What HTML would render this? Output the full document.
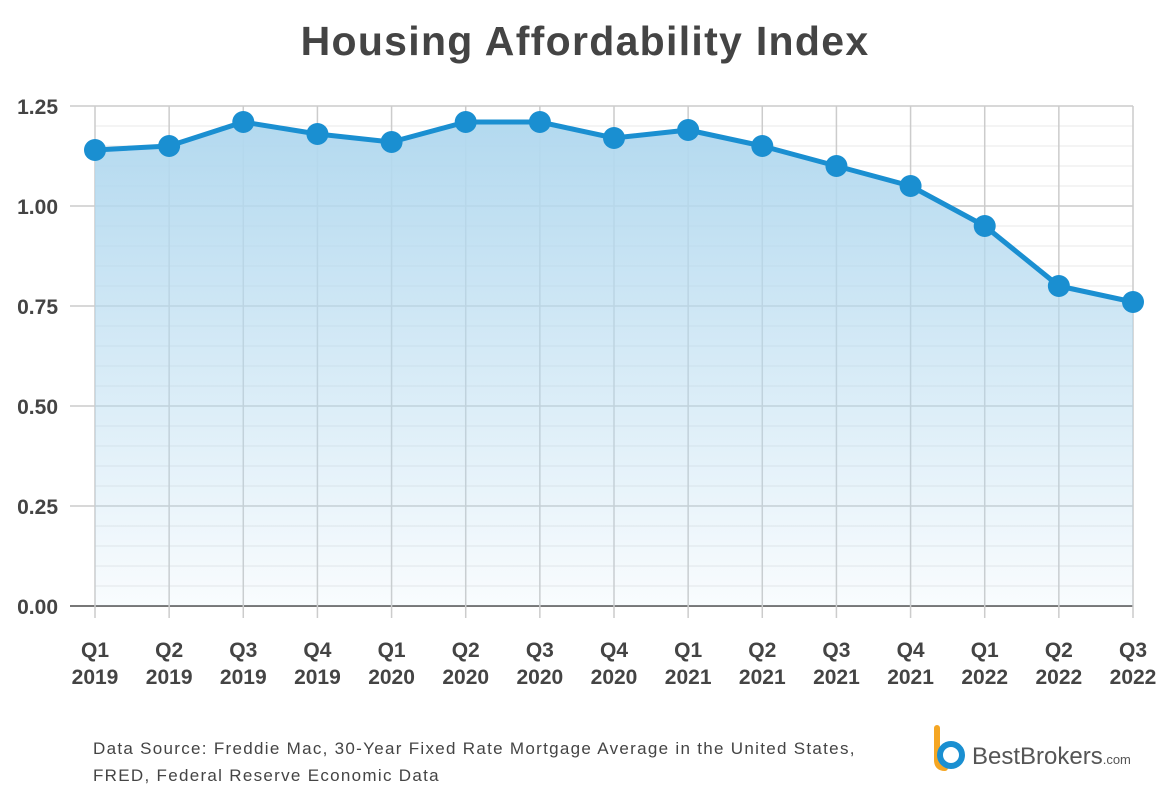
<!DOCTYPE html>
<html><head><meta charset="utf-8"><style>
body{margin:0;background:#fff;}
svg{display:block;font-family:"Liberation Sans",sans-serif;}
</style></head><body>
<svg id="chart" width="1170" height="804" viewBox="0 0 1170 804">
<defs><linearGradient id="fill" x1="0" y1="0" x2="0" y2="1">
<stop offset="0" stop-color="#b3d9ef"/><stop offset="1" stop-color="#b3d9ef" stop-opacity="0.08"/></linearGradient></defs>
<text x="585" y="55" text-anchor="middle" font-size="41" font-weight="bold" fill="#444" letter-spacing="1.3">Housing Affordability Index</text>
<g id="grid"></g><g id="area"></g><g id="xlabels"></g><g id="ylabels"></g>
<text x="93" y="754" font-size="17" fill="#444" letter-spacing="1.3">Data Source: Freddie Mac, 30-Year Fixed Rate Mortgage Average in the United States,</text>
<text x="93" y="781" font-size="17" fill="#444" letter-spacing="1.3">FRED, Federal Reserve Economic Data</text>
<g>
<path d="M937 728 L937 760 Q937 768 945 768" stroke="#f5a623" stroke-width="6" fill="none" stroke-linecap="round"/>
<circle cx="951" cy="755" r="11" stroke="#1a8fd1" stroke-width="6" fill="none"/>
<text x="972" y="764" font-size="24" fill="#555">BestBrokers<tspan font-size="13">.com</tspan></text>
</g>
</svg>
<script>
const categories=["Q1|2019","Q2|2019","Q3|2019","Q4|2019","Q1|2020","Q2|2020","Q3|2020","Q4|2020","Q1|2021","Q2|2021","Q3|2021","Q4|2021","Q1|2022","Q2|2022","Q3|2022"];
const values=[1.14,1.15,1.21,1.18,1.16,1.21,1.21,1.17,1.19,1.15,1.10,1.05,0.95,0.80,0.76];
const yTicks=[0,0.25,0.5,0.75,1.0,1.25];
const yTickLabels=["0.00","0.25","0.50","0.75","1.00","1.25"];
const yMax=1.25, minorStep=0.05;
const X0=95,X1=1133,Y0=606,Y1=106,GL=70;
const ns="http://www.w3.org/2000/svg";
function x(i){return X0+(X1-X0)*i/(categories.length-1);}
function y(v){return Y0-(Y0-Y1)*v/yMax;}
function mk(t,a,p){const e=document.createElementNS(ns,t);for(const k in a)e.setAttribute(k,a[k]);p.appendChild(e);return e;}
const grid=document.getElementById('grid');
for(let k=0;k*minorStep<=yMax+1e-9;k++){const v=k*minorStep;const major=yTicks.some(t=>Math.abs(t-v)<1e-9);
const l=mk('line',{x1:major?GL:X0,x2:X1,y1:y(v),y2:y(v),stroke:major?(v===0?'#777':'#ccc'):'#e8e8e8','stroke-width':major?(v===0?2:1.5):1},grid);

}
categories.forEach((c,i)=>{const l=mk('line',{x1:x(i),x2:x(i),y1:Y1,y2:Y0+12,stroke:'#ccc','stroke-width':1.5},grid);

});
const area=document.getElementById('area');
let pts=values.map((v,i)=>x(i)+','+y(v)).join(' ');
const poly=mk('polygon',{points:X0+','+Y0+' '+pts+' '+X1+','+Y0,fill:'url(#fill)'},area);


const line=mk('polyline',{points:pts,fill:'none',stroke:'#1a8fd1','stroke-width':5,'stroke-linejoin':'round'},area);


values.forEach((v,i)=>{const c=mk('circle',{cx:x(i),cy:y(v),r:11,fill:'#1a8fd1'},area);

});
const xl=document.getElementById('xlabels');
categories.forEach((c,i)=>{const [q,yr]=c.split('|');
const t=mk('text',{x:x(i),y:657,'text-anchor':'middle','font-size':21,'font-weight':'bold',fill:'#444'},xl);t.textContent=q;


const t2=mk('text',{x:x(i),y:684,'text-anchor':'middle','font-size':21,'font-weight':'bold',fill:'#444'},xl);t2.textContent=yr;

});
const yl=document.getElementById('ylabels');
yTicks.forEach((v,i)=>{const t=mk('text',{x:58,y:y(v)+8,'text-anchor':'end','font-size':21,'font-weight':'bold',fill:'#444'},yl);t.textContent=yTickLabels[i];

});
</script>
</body></html>
